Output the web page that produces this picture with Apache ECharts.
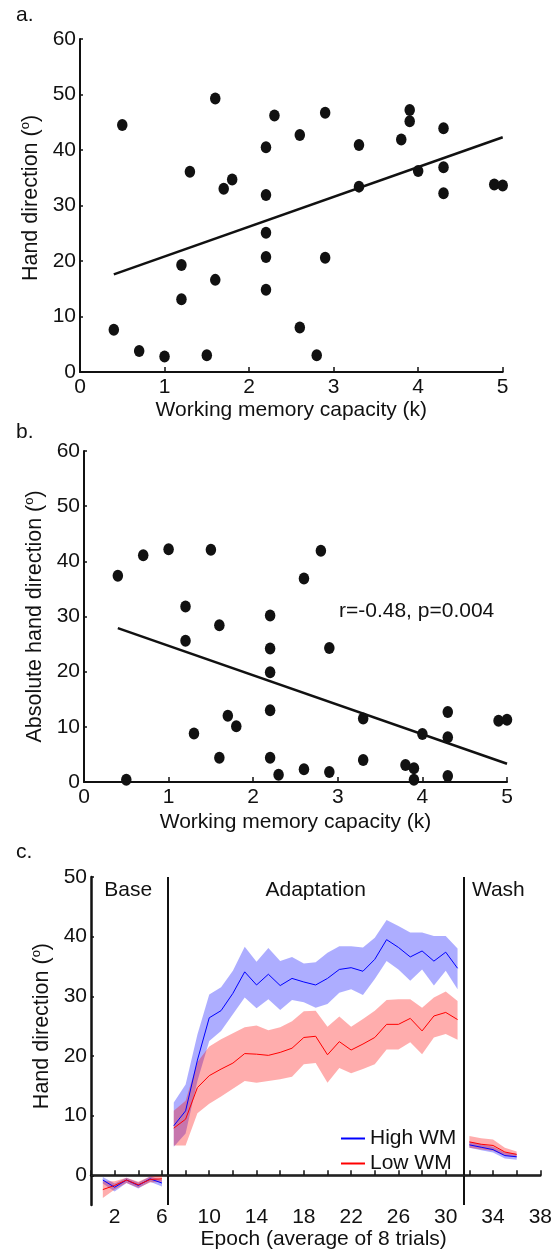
<!DOCTYPE html>
<html><head><meta charset="utf-8">
<script src="https://cdn.jsdelivr.net/npm/echarts@6/dist/echarts.min.js"></script>
<style>html,body{margin:0;padding:0;background:#fff}#c{width:555px;height:1251px}</style>
</head><body><div id="c"></div>
<script>
// ---- Panel a: hand direction vs WM capacity ----
const aK   = [0.4,0.5,0.7,1.0,1.2,1.2,1.3,1.5,1.6,1.6,1.7,1.8,2.2,2.2,2.2,2.2,2.2,2.3,2.6,2.6,2.8,2.9,2.9,3.3,3.3,3.8,3.9,3.9,4.0,4.3,4.3,4.3,4.9,5.0];
const aDir = [7.6,44.5,3.8,2.8,19.3,13.1,36.1,3.0,49.3,16.6,33.0,34.7,40.5,31.9,25.1,20.7,14.8,46.2,42.7,8.0,3.0,46.7,20.6,40.9,33.4,41.9,47.2,45.2,36.2,43.9,36.9,32.2,33.8,33.6];
const aFitK = [0.4, 5.0];
const aFitY = [17.6, 42.3];

// ---- Panel b: absolute hand direction vs WM capacity ----
const bK   = [0.4,0.5,0.7,1.0,1.2,1.2,1.3,1.5,1.6,1.6,1.7,1.8,2.2,2.2,2.2,2.2,2.2,2.3,2.6,2.6,2.8,2.9,2.9,3.3,3.3,3.8,3.9,3.9,4.0,4.3,4.3,4.3,4.9,5.0];
const bAbs = [37.4,0.4,41.1,42.2,31.8,25.6,8.8,42.1,28.4,4.4,12.0,10.1,30.2,24.2,19.9,13.0,4.4,1.3,36.9,2.3,41.9,24.3,1.8,11.5,4.0,3.1,2.5,0.4,8.7,12.7,8.1,1.1,11.1,11.3];
const bFitK = [0.4, 5.0];
const bFitY = [27.9, 3.3];
const bNote = 'r=-0.48, p=0.004';

// ---- Panel c: learning curves ----
const epochs = [1,2,3,4,5,6,7,8,9,10,11,12,13,14,15,16,17,18,19,20,21,22,23,24,25,26,27,28,29,30,31,32,33,34,35,36];
const segments = [[1,6],[7,31],[32,36]];
const highMean = [-0.8,-2.0,-0.8,-1.7,-0.6,-1.3, 8.3,10.8,19.3,26.4,27.6,30.5,34.1,31.9,33.7,31.8,33.0,32.4,31.9,33.0,34.5,34.8,34.2,36.2,39.5,38.2,36.6,37.6,35.9,37.4,34.7, 5.1,4.7,4.3,3.3,3.1];
const highLow  = [-1.4,-2.7,-1.3,-2.2,-1.1,-1.9, 4.8,7.0,15.8,22.5,24.2,27.0,29.8,28.0,29.5,27.7,29.4,29.0,28.1,28.7,30.6,31.2,30.2,32.9,35.9,34.5,32.6,34.5,31.8,34.3,31.2, 4.6,4.2,3.8,2.8,2.6];
const highUp   = [-0.3,-1.4,-0.4,-1.2,-0.2,-0.8, 12.2,15.2,23.6,30.3,31.5,34.3,38.3,35.8,38.1,35.9,36.6,35.5,35.7,37.3,38.4,38.4,38.2,39.8,42.8,41.8,40.7,40.7,40.1,40.1,38.0, 5.6,5.2,4.8,3.8,3.6];
const lowMean  = [-2.4,-1.7,-0.8,-1.6,-0.7,-0.6, 7.9,9.4,14.7,16.7,17.8,18.8,20.4,20.3,20.1,20.6,21.3,23.1,23.3,20.2,22.4,21.0,22.0,23.1,25.3,25.3,26.3,24.2,26.7,27.3,26.1, 5.6,5.2,5.0,3.9,3.5];
const lowLow   = [-3.8,-2.4,-1.3,-2.1,-1.2,-1.1, 5.0,5.0,10.4,12.0,13.2,14.5,15.8,15.5,15.8,16.1,16.5,18.6,18.8,15.5,18.0,17.1,17.8,18.6,21.1,21.1,22.3,20.3,23.1,23.7,22.7, 4.6,4.3,4.1,3.3,3.0];
const lowUp    = [-1.0,-1.0,-0.4,-1.1,-0.2,-0.1, 10.8,12.5,19.0,21.6,22.8,23.8,24.8,25.1,24.3,24.8,25.8,27.5,27.6,24.9,26.6,24.9,26.2,27.6,29.4,29.5,29.5,28.1,29.8,30.8,29.2, 6.6,6.2,6.0,4.6,4.0];
const phaseBounds = [6.5, 31.5];
const phaseNames = ['Base','Adaptation','Wash'];
const cYTicks = [0,10,20,30,40,50];

const FONT = "'Liberation Sans', Arial, sans-serif";
const INK = '#111';
const FS = 21;
const chart = echarts.init(document.getElementById('c'), null, {renderer:'canvas'});

const zip = (xs, ys) => xs.map((x,i)=>[x, ys[i]]);

function kAxis(gi, gap){
  return {gridIndex:gi, type:'value', min:0, max:5, interval:1,
    name:'Working memory capacity (k)', nameLocation:'middle', nameGap:gap,
    nameTextStyle:{fontFamily:FONT, fontSize:FS, color:INK},
    axisLine:{lineStyle:{color:INK, width:2}},
    axisTick:{inside:true, length:5, lineStyle:{color:INK, width:1.5}},
    axisLabel:{fontFamily:FONT, fontSize:FS, color:INK, margin:5},
    splitLine:{show:false}};
}
function yAxisCfg(gi, min, max, interval, name, gap, pad, extra){
  return Object.assign({gridIndex:gi, type:'value', min:min, max:max, interval:interval,
    name:name, nameLocation:'middle', nameGap:gap, nameRotate:90,
    nameTextStyle:{fontFamily:FONT, fontSize:21.5, color:INK, padding:pad,
      rich:{s:{fontFamily:FONT, fontSize:13, color:INK, verticalAlign:'top', lineHeight:24}}},
    axisLine:{lineStyle:{color:INK, width:2}},
    axisTick:{inside:true, length:3, lineStyle:{color:INK, width:1.5}},
    axisLabel:{fontFamily:FONT, fontSize:FS, color:INK, margin:4},
    splitLine:{show:false}}, extra||{});
}

const series = [];
// Panel a
series.push({type:'scatter', xAxisIndex:0, yAxisIndex:0, data:zip(aK,aDir), symbol:'circle', symbolSize:[10.5,12], itemStyle:{color:INK, opacity:1}, clip:false});
series.push({type:'line', xAxisIndex:0, yAxisIndex:0, data:zip(aFitK,aFitY), showSymbol:false, symbol:'none', lineStyle:{color:INK, width:2.5}});
// Panel b
series.push({type:'scatter', xAxisIndex:1, yAxisIndex:1, data:zip(bK,bAbs), symbol:'circle', symbolSize:[10.5,12], itemStyle:{color:INK, opacity:1}, clip:false});
series.push({type:'line', xAxisIndex:1, yAxisIndex:1, data:zip(bFitK,bFitY), showSymbol:false, symbol:'none', lineStyle:{color:INK, width:2.5}});

// Panel c bands (custom polygons through the axis scale) and means
const groups = [
  {name:'High WM', color:'#0000ff', band:'rgba(0,0,255,0.32)', mean:highMean, lo:highLow, up:highUp},
  {name:'Low WM',  color:'#ff0000', band:'rgba(255,0,0,0.32)', mean:lowMean,  lo:lowLow,  up:lowUp}
];
const segIdx = seg => epochs.map((e,i)=>i).filter(i => epochs[i]>=seg[0] && epochs[i]<=seg[1]);
groups.forEach(g => {
  segments.forEach(seg => {
    const idx = segIdx(seg);
    const rows = idx.map(i => [epochs[i], g.lo[i], g.up[i]]);
    series.push({type:'custom', xAxisIndex:2, yAxisIndex:2, silent:true, z:1,
      data: rows,
      encode:{x:0, y:[1,2]},
      renderItem:(params, api) => {
        if (params.dataIndex !== 0) return null;
        const top = rows.map(r => api.coord([r[0], r[2]]));
        const bot = rows.map(r => api.coord([r[0], r[1]])).reverse();
        return {type:'polygon', shape:{points: top.concat(bot)}, style:{fill:g.band}};
      }});
  });
});
groups.forEach((g, gi) => {
  segments.forEach((seg, si) => {
    const idx = segIdx(seg);
    const s = {type:'line', name:g.name, xAxisIndex:2, yAxisIndex:2,
      data: idx.map(i=>[epochs[i], g.mean[i]]), symbol:'none',
      itemStyle:{color:g.color}, lineStyle:{color:g.color, width:1}, z:3};
    if (gi===0 && si===0) {
      s.markLine = {silent:true, symbol:'none', label:{show:false},
        data:[
          {xAxis:phaseBounds[0], lineStyle:{color:INK, width:2, type:'solid'}},
          {xAxis:phaseBounds[1], lineStyle:{color:INK, width:2, type:'solid'}},
          {yAxis:0, lineStyle:{color:'#222', width:1, type:'solid'}}
        ]};
    }
    series.push(s);
  });
});

const option = {
  animation:false,
  backgroundColor:'#fff',
  textStyle:{fontFamily:FONT},
  grid:[
    {left:80, top:39, width:422.7, height:333},
    {left:84, top:451, width:423, height:331},
    {left:91, top:877, width:450.7, height:331}
  ],
  xAxis:[
    kAxis(0, 28),
    kAxis(1, 29.5),
    {gridIndex:2, type:'value', min:0, max:38, interval:2,
      name:'Epoch (average of 8 trials)', nameLocation:'middle', nameGap:21,
      nameTextStyle:{fontFamily:FONT, fontSize:FS, color:INK, padding:[0,0,0,16]},
      axisLine:{lineStyle:{color:INK, width:2.5}},
      axisTick:{inside:true, length:5, lineStyle:{color:INK, width:1.5}},
      axisLabel:{fontFamily:FONT, fontSize:FS, color:INK, margin:2,
        formatter:v => (v % 4 === 2 ? String(v) : '')},
      splitLine:{show:false}}
  ],
  yAxis:[
    yAxisCfg(0, 0, 60, 10, 'Hand direction ({s|o})', 34, [0,0,0,15]),
    yAxisCfg(1, 0, 60, 10, 'Absolute hand direction ({s|o})', 33, [0,0,0,0]),
    yAxisCfg(2, -5, 50, 5, 'Hand direction ({s|o})', 37, [0,0,0,30], {
      axisLabel:{fontFamily:FONT, fontSize:FS, color:INK, margin:4,
        formatter:v => (v>=0 && v % 10 === 0 ? String(v) : '')},
      axisTick:{inside:true, length:3, lineStyle:{color:INK, width:1.5}, customValues:cYTicks},
      axisLine:{lineStyle:{color:INK, width:2.5}}})
  ],
  legend:{show:true, data:['High WM','Low WM'], orient:'vertical', left:336, top:1123,
    icon:'rect', itemWidth:24, itemHeight:2, itemGap:4,
    textStyle:{fontFamily:FONT, fontSize:FS, color:INK}, selectedMode:false},
  graphic:[
    {type:'text', left:16, top:5, style:{text:'a.', font:FS+'px '+FONT, fill:INK}},
    {type:'text', left:16, top:422, style:{text:'b.', font:FS+'px '+FONT, fill:INK}},
    {type:'text', left:16, top:842, style:{text:'c.', font:FS+'px '+FONT, fill:INK}},
    {type:'text', left:339, top:601, style:{text:bNote, font:FS+'px '+FONT, fill:INK}}
  ],
  series: series
};
chart.setOption(option);

// phase labels placed via the axis scale
const phaseCenters = [(0+phaseBounds[0])/2 - 0.1, (phaseBounds[0]+phaseBounds[1])/2, (phaseBounds[1]+38)/2 - 0.3];
const g2 = option.graphic.slice();
phaseNames.forEach((n,i) => {
  const p = chart.convertToPixel({xAxisIndex:2, yAxisIndex:2}, [phaseCenters[i], 47.8]);
  g2.push({type:'text', x:p[0], y:p[1], style:{text:n, font:FS+'px '+FONT, fill:INK, align:'center', verticalAlign:'middle'}});
});
chart.setOption({graphic:g2});
</script>
</body></html>
